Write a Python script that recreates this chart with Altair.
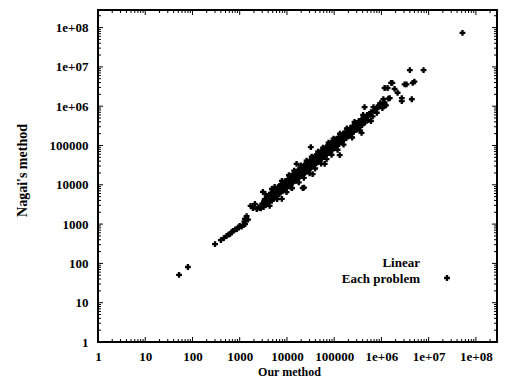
import altair as alt
import pandas as pd

# ---- data: "Our method" (x) vs "Nagai's method" (y) ----
low_our = [52, 80, 300, 400, 460, 530, 580, 620, 680, 720, 800, 870, 950, 1000, 1100,
           1200, 1250, 1290, 1300, 1400, 1500, 1700, 1900, 2100, 2300, 2500, 2650,
           2800, 3100]
low_nagai = [51, 81, 310, 390, 440, 500, 540, 560, 620, 670, 720, 750, 820, 900, 860,
             950, 1150, 1350, 1000, 1600, 1300, 2900, 2560, 3250, 2400, 2700, 2560,
             2500, 3250]

band_our = [
    3000, 3200, 3300, 3400, 3600, 3700, 3800, 4000, 4100, 4200, 4400, 4500, 4600, 4800,
    4900, 5000, 5200, 5300, 5400, 5600, 5800, 5900, 6000, 6300, 6400, 6500, 6800, 6900,
    7000, 7300, 7400, 7600, 8000, 8100, 8300, 8600, 8800, 9000, 9300, 9500, 9700, 10000,
    10200, 10500, 11000, 11200, 11500, 11800, 12000, 12300, 12500, 13000, 13200, 13500,
    14000, 14300, 14500, 14800, 15000, 15500, 15800, 16000, 16500, 17000, 17300, 17500,
    18000, 18500, 19000, 19500, 20000, 20500, 21000, 21500, 22000, 22500, 23000, 23500,
    24000, 24500, 25000, 25500, 26000, 26500, 27000, 27500, 28000, 28500, 29000, 29500,
    30000, 30500, 31000, 32000, 33000, 34000, 35000, 36000, 37000, 38000, 39000, 40000,
    41000, 42000, 43000, 44000, 45000, 46000, 47000, 48000, 49000, 50000, 51000, 52000,
    54000, 56000, 57000, 59000, 60000, 62000, 64000, 66000, 68000, 70000, 71000, 73000,
    75000, 78000, 80000, 83000, 85000, 87000, 90000, 93000, 95000, 98000, 100000, 102000,
    105000, 110000, 112000, 115000, 120000, 125000, 128000, 135000, 138000, 142000,
    150000, 155000, 160000, 170000, 175000, 180000, 190000, 195000, 200000, 215000,
    220000, 230000, 245000, 250000, 260000, 280000, 290000, 300000, 320000, 330000,
    340000, 360000, 380000, 390000, 420000, 430000, 450000, 480000, 500000, 520000,
    560000, 600000, 650000, 700000, 750000, 800000, 870000, 950000, 1050000, 1150000,
    1250000, 1400000,
]
band_nagai = [
    3300, 2700, 3900, 4300, 3100, 3900, 4900, 3500, 4400, 5600, 4000, 5000, 6000, 3900,
    5200, 6600, 4400, 5500, 6300, 7500, 4700, 6200, 7300, 5200, 6800, 8700, 6100, 7400,
    9300, 6300, 8100, 10400, 6800, 8700, 10000, 7300, 9500, 12400, 8000, 10200, 11300, 8500,
    11500, 14000, 9400, 12100, 15500, 12500, 10100, 13600, 16500, 11000, 14200, 19000,
    12400, 15600, 17800, 13500, 20100, 12600, 17000, 21500, 17600, 14400, 18700, 24000,
    15100, 20200, 25300, 21000, 16900, 22600, 28000, 23100, 18800, 24500, 31000, 25200,
    20100, 26500, 33500, 21500, 28100, 35500, 23000, 29600, 37500, 24300, 31200, 39000,
    25200, 32700, 42000, 27000, 35500, 46000, 30000, 38800, 50000, 32000, 42000, 54000,
    35000, 45000, 58000, 37500, 48500, 62000, 39500, 51500, 65000, 43000, 54500, 70000,
    46000, 60000, 76000, 50500, 64500, 83000, 54500, 71000, 90000, 60000, 76000, 97000,
    64000, 84000, 106000, 71000, 91000, 116000, 77000, 100000, 126000, 84000, 108000, 135000,
    90000, 118000, 148000, 98000, 130000, 165000, 110000, 146000, 180000, 122000,
    162000, 200000, 137000, 184000, 225000, 155000, 205000, 250000, 172000, 232000,
    280000, 197000, 265000, 320000, 222000, 302000, 365000, 255000, 345000, 415000,
    290000, 390000, 470000, 330000, 455000, 520000, 380000, 520000, 600000, 440000,
    600000, 700000, 550000, 760000, 850000, 680000, 940000, 1100000, 900000, 1250000,
    1050000, 1550000,
]

edge_our = [3500, 4300, 5500, 6200, 7800, 9800, 11000, 12800, 14200, 17800, 19800,
            22800, 26000, 30200, 33500, 39500, 45500, 53000, 58000, 69000, 76000,
            88000, 97000, 118000, 132000, 158000, 185000, 240000, 270000, 350000,
            410000, 600000, 680000]
edge_nagai = [5800, 2900, 8800, 4300, 12500, 6500, 17500, 8200, 23000, 11500, 31000,
              15000, 41000, 19500, 52000, 26000, 70000, 34500, 88000, 45000, 118000,
              58000, 150000, 78000, 200000, 105000, 270000, 160000, 400000, 240000,
              600000, 420000, 950000]

out_our = [3100, 4800, 16000, 32000, 440000, 4000000, 7800000, 52000000,
           7800, 12600, 21600, 23000, 35000, 63000, 131000, 380000, 4400000, 2700000,
           1170000, 1700000, 3100000, 4600000, 5000000, 3400000, 1900000, 2200000,
           1500000, 1170000, 2700000, 1600000, 1350000, 1100000, 940000, 800000]
out_nagai = [6600, 7800, 34000, 91000, 950000, 8300000, 8300000, 73000000,
             4400, 8300, 8300, 8500, 18700, 34000, 57000, 210000, 1500000, 1600000,
             2900000, 3900000, 3600000, 3900000, 4200000, 3600000, 2750000, 2200000,
             1600000, 1150000, 1350000, 3900000, 2900000, 1500000, 1200000, 940000]

x_title = "Our method"
y_title = "Nagai's method"
legend_labels = ["Linear", "Each problem"]
decade_labels = [1, 10, 100, 1000, 10000, 100000, 1000000, 10000000, 100000000]

df = pd.DataFrame({"our": low_our + band_our + edge_our + out_our,
                   "nagai": low_nagai + band_nagai + edge_nagai + out_nagai})

DMAX = 2.8e8
W, H = 399, 332
FONT = "Liberation Serif"

major = decade_labels
minor = [m * d for d in decade_labels for m in range(2, 10) if m * d <= DMAX]

xscale = alt.Scale(type="log", domain=[1, DMAX], nice=False)
yscale = alt.Scale(type="log", domain=[1, DMAX], nice=False)

label_expr = ("datum.value >= 1000000 ? '1e+0' + round(log(datum.value)/LN10) "
              ": format(datum.value, 'd')")

x_axis = alt.Axis(values=decade_labels, labelExpr=label_expr, ticks=False, tickSize=0,
                  domain=False, grid=False, labelFont=FONT, labelFontSize=13,
                  labelFontWeight="bold", labelColor="black", labelPadding=8,
                  title=x_title, titleFont=FONT, titleFontSize=12, titleFontWeight="bold",
                  titleColor="black", titleX=191, titleY=29, titleBaseline="middle",
                  titleAnchor="middle", labelFlush=False)
y_axis = alt.Axis(values=decade_labels, labelExpr=label_expr, ticks=False, tickSize=0,
                  domain=False, grid=False, labelFont=FONT, labelFontSize=13,
                  labelFontWeight="bold", labelColor="black", labelPadding=10,
                  title=y_title, titleFont=FONT, titleFontSize=14, titleFontWeight="bold",
                  titleColor="black", titleX=-76, titleY=160, titleBaseline="middle",
                  titleAnchor="middle", titleAngle=-90, labelFlush=False)


def X(field):
    return alt.X(f"{field}:Q", scale=xscale, axis=x_axis)


def Y(field):
    return alt.Y(f"{field}:Q", scale=yscale, axis=y_axis)


points = alt.Chart(df).mark_point(shape="cross", filled=True, size=34, color="black",
                                  opacity=1).encode(x=X("our"), y=Y("nagai"))

layers = [points]
for vals, ln in ((major, 5), (minor, 3)):
    xdf = pd.DataFrame({"our": vals})
    ydf = pd.DataFrame({"nagai": vals})
    layers.append(alt.Chart(xdf).mark_rule(color="black", strokeWidth=1).encode(
        x=X("our"), y=alt.value(H), y2=alt.value(H - ln)))
    layers.append(alt.Chart(xdf).mark_rule(color="black", strokeWidth=1).encode(
        x=X("our"), y=alt.value(0), y2=alt.value(ln)))
    layers.append(alt.Chart(ydf).mark_rule(color="black", strokeWidth=1).encode(
        y=Y("nagai"), x=alt.value(0), x2=alt.value(ln)))
    layers.append(alt.Chart(ydf).mark_rule(color="black", strokeWidth=1).encode(
        y=Y("nagai"), x=alt.value(W), x2=alt.value(W - ln)))

leg1 = alt.Chart(pd.DataFrame({"t": [legend_labels[0]]})).mark_text(
    align="right", baseline="middle", font=FONT, fontSize=13, fontWeight="bold",
    color="black").encode(text="t:N", x=alt.value(322), y=alt.value(253))
leg2 = alt.Chart(pd.DataFrame({"t": [legend_labels[1]]})).mark_text(
    align="right", baseline="middle", font=FONT, fontSize=13, fontWeight="bold",
    color="black").encode(text="t:N", x=alt.value(322), y=alt.value(269))
leg_mark = alt.Chart(pd.DataFrame({"t": [legend_labels[1]]})).mark_point(
    shape="cross", filled=True, size=34, color="black", opacity=1).encode(
    x=alt.value(349), y=alt.value(268))
layers += [leg1, leg2, leg_mark]

chart = alt.layer(*layers).properties(
    width=W, height=H,
    autosize=alt.AutoSizeParams(type="none"),
    padding={"left": 90, "top": 2, "right": 1, "bottom": 35},
    background="white",
).configure_view(stroke="black", strokeWidth=2)

chart.save("out.html", embed_options={"renderer": "svg", "actions": False})
